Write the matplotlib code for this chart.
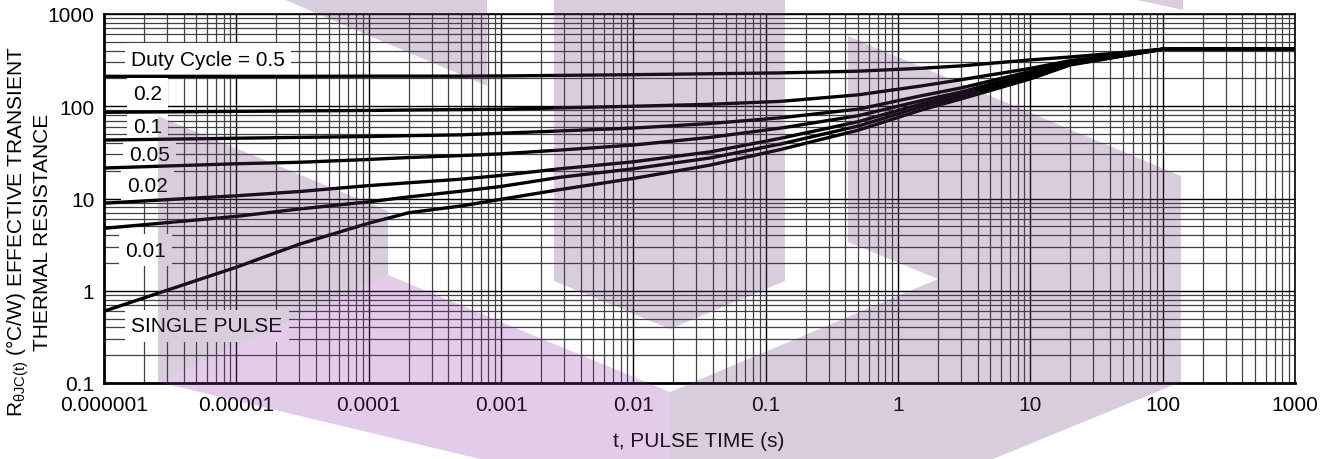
import matplotlib
matplotlib.use("Agg")
import matplotlib.pyplot as plt
from matplotlib.patches import Polygon
from matplotlib.ticker import FixedLocator, LogLocator, NullFormatter
import numpy as np

plt.rcParams['font.family'] = ['Liberation Sans', 'DejaVu Sans']

# pulse time (s) and curves
t = [1e-6, 1e-5, 3e-5, 1e-4, 2e-4, 5e-4, 1e-3, 2.8e-3, 1e-2, 0.038, 0.13, 0.5,
     1.5, 3, 10, 20, 100, 1000]
r_d50 = [211, 211, 211, 212, 212, 212, 213, 216, 220, 225, 230, 240, 258, 274, 318, 342, 415, 420]
r_d20 = [86, 88, 89, 90, 91, 92, 93, 96, 100, 105, 113, 133, 166, 194, 257, 312, 415, 420]
r_d10 = [43, 45, 46, 47, 48, 49, 51, 54, 58, 65, 75, 93, 130, 158, 238, 300, 415, 420]
r_d05 = [21.4, 23.8, 24.7, 26.5, 27.8, 29.2, 30.5, 33.5, 38, 46, 58, 79, 115, 143, 225, 295, 415, 420]
r_d02 = [8.9, 10.7, 11.9, 13.8, 14.8, 16.2, 17.8, 21, 25, 32, 45, 68, 106, 135, 215, 290, 415, 420]
r_d01 = [4.75, 6.4, 7.7, 9.2, 10.4, 12.0, 13.5, 17, 21, 27.5, 39, 61, 99, 128, 207, 285, 415, 420]
r_single = [0.6, 1.8, 3.2, 5.4, 7.0, 8.3, 9.8, 12.5, 16.5, 23, 34, 55, 91, 120, 198, 280, 415, 420]

curves = [r_d50, r_d20, r_d10, r_d05, r_d02, r_d01, r_single]

# curve labels and where they sit
labels = ['Duty Cycle = 0.5', '0.2', '0.1', '0.05', '0.02', '0.01', 'SINGLE PULSE']
label_x = [1.6e-6, 1.65e-6, 1.65e-6, 1.55e-6, 1.5e-6, 1.45e-6, 1.6e-6]
label_y = [325, 136, 60, 30, 14, 2.75, 0.415]

xticks = [1e-6, 1e-5, 1e-4, 1e-3, 1e-2, 1e-1, 1, 10, 100, 1000]
xticklabels = ['0.000001', '0.00001', '0.0001', '0.001', '0.01', '0.1', '1', '10', '100', '1000']
yticks = [0.1, 1, 10, 100, 1000]
yticklabels = ['0.1', '1', '10', '100', '1000']

W, H = 1333, 460
fig = plt.figure(figsize=(W / 100, H / 100), dpi=100)
ax = fig.add_axes([104 / W, 1 - 384 / H, (1295 - 104) / W, (384 - 15) / H])
ax.set_facecolor('white')

ax.set_xscale('log')
ax.set_yscale('log')
ax.set_xlim(1e-6, 1000)
ax.set_ylim(0.1, 1000)

for r in curves:
    ax.plot(t, r, color='black', lw=2.4, zorder=4, solid_capstyle='butt',
            solid_joinstyle='round')

for s, x, y in zip(labels, label_x, label_y):
    ax.text(x, y, s, fontsize=15, ha='left', va='center', zorder=3,
            bbox=dict(boxstyle='square,pad=0.3', fc='white', ec='none'))

ax.xaxis.set_major_locator(FixedLocator(xticks))
ax.set_xticklabels(xticklabels)
ax.yaxis.set_major_locator(FixedLocator(yticks))
ax.set_yticklabels(yticklabels)
for a in (ax.xaxis, ax.yaxis):
    a.set_minor_locator(LogLocator(base=10, subs=np.arange(2, 10), numticks=200))
    a.set_minor_formatter(NullFormatter())
ax.tick_params(which='both', length=0, labelsize=15)
ax.tick_params(axis='x', pad=9)
ax.tick_params(axis='y', pad=7)

ax.grid(which='major', color='black', lw=1.0, zorder=1)
ax.grid(which='minor', color='#404040', lw=0.9, zorder=1)
ax.set_axisbelow(True)
for sp in ax.spines.values():
    sp.set_color('black')
    sp.set_linewidth(1.2)
ax.spines['left'].set_linewidth(2)
ax.spines['bottom'].set_linewidth(2)

fig.text(699 / W, 1 - 442 / H, 't, PULSE TIME (s)', fontsize=15, ha='center', va='center')
fig.text(18 / W, 1 - 232 / H, r'R$_{\mathregular{θJC(t)}}$ (°C/W) EFFECTIVE TRANSIENT',
         fontsize=15, rotation=90, ha='center', va='center')
fig.text(43 / W, 1 - 232 / H, 'THERMAL RESISTANCE', fontsize=15, rotation=90,
         ha='center', va='center')

# background watermark shapes (pixel outlines, top-left origin)
wm_grey = '#633b7b'
wm_pink = '#8f37af'
watermark = [
    ([(283, 0), (487, 0), (487, 87)], wm_grey),
    ([(158, 117), (388, 212), (388, 276), (158, 383)], wm_grey),
    ([(158, 383), (388, 276), (670, 393), (670, 460), (480, 460)], wm_pink),
    ([(554, 0), (785, 0), (785, 282), (670, 330), (554, 282)], wm_grey),
    ([(848, 37), (1181, 177), (1181, 383), (993, 460), (670, 460), (670, 393),
      (938, 280), (848, 243)], wm_grey),
    ([(1133, 0), (1183, 0), (1183, 11)], wm_grey),
]
for pts, c in watermark:
    xy = [(px / W, 1 - py / H) for px, py in pts]
    fig.add_artist(Polygon(xy, closed=True, transform=fig.transFigure,
                           fc=c, ec='none', alpha=0.25, zorder=10))

fig.savefig('out.png', dpi=100)
